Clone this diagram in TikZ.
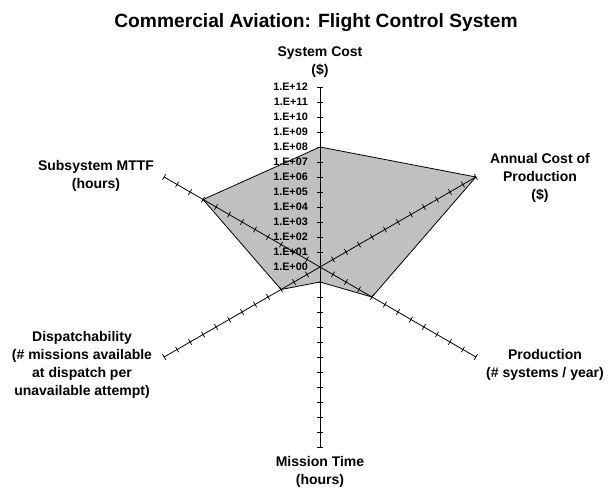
\documentclass[tikz,border=0pt]{standalone}
\usepackage{fontspec}
\setmainfont{Liberation Sans}
\definecolor{areagray}{RGB}{192,192,192}
\begin{document}
\begin{tikzpicture}[x=1pt,y=1pt,
  axisline/.style={line width=0.8pt},
  tickmark/.style={line width=0.7pt},
  area/.style={fill=areagray,draw=black,line width=0.8pt,line join=miter},
  ticklabel/.style={font=\fontsize{10.8}{13}\selectfont\bfseries,anchor=east,inner sep=0pt},
  axislabel/.style={font=\fontsize{14}{18}\selectfont\bfseries,align=center,inner sep=0pt},
  titlelabel/.style={font=\fontsize{19.2}{22}\selectfont\bfseries,anchor=base,inner sep=0pt}]
\useasboundingbox (0,0) rectangle (608,489);

% centre of the radar and the ends of the six axes (12 steps of 15pt)
\coordinate (o) at (320,222);
\foreach \nm/\ang in {cost/90,annual/30,prod/-30,mission/-90,disp/-150,mttf/150}
  \coordinate (\nm) at ([shift={(\ang:180)}]o);

% data points (log10 of each value)
\foreach \nm/\ang/\v in {cost/90/8,annual/30/12,prod/-30/4,mission/-90/1,disp/-150/3,mttf/150/9}
  \coordinate (v\nm) at ([shift={(\ang:15*\v)}]o);

% filled data area
\draw[area] (vcost) -- (vannual) -- (vprod) -- (vmission) -- (vdisp) -- (vmttf) -- cycle;

% scale labels on the vertical axis
\foreach \k in {0,...,12}
  \node[ticklabel] (t\k) at (308,222+15*\k) {1.E+\ifnum\k<10 0\fi\k};

% axes with tick marks
\foreach \nm/\ang in {cost/90,annual/30,prod/-30,mission/-90,disp/-150,mttf/150}{
  \draw[axisline] (o) -- (\nm);
  \foreach \k in {1,...,12}
    \draw[tickmark] ([shift={(\ang:15*\k)}]o) ++(\ang+90:3.2) -- ++(\ang-90:6.4);
}

% title and axis captions
\node[titlelabel] (title) at (316,461) {Commercial Aviation: Flight Control System};
\node[axislabel] (lcost) at (320,426.5) {System Cost\\(\$)};
\node[axislabel] (lannual) at (540,311) {Annual Cost of\\Production\\(\$)};
\node[axislabel] (lprod) at (545,124) {Production\\(\# systems / year)};
\node[axislabel] (lmission) at (320,17) {Mission Time\\(hours)};
\node[axislabel] (ldisp) at (82,124) {Dispatchability\\(\# missions available\\at dispatch per\\unavailable attempt)};
\node[axislabel] (lmttf) at (96,313) {Subsystem MTTF\\(hours)};
\end{tikzpicture}
\end{document}
